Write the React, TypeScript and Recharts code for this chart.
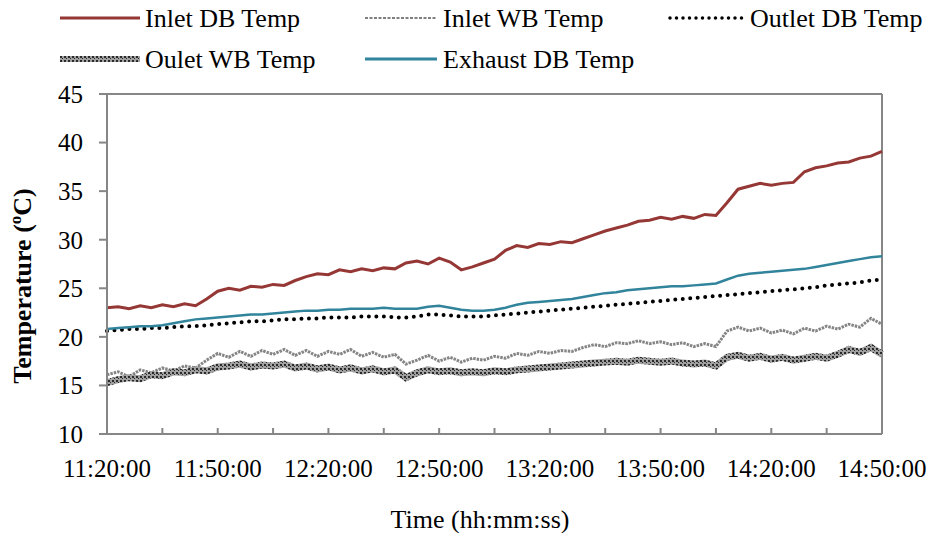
import React from "react";
import { LineChart, Line, XAxis, YAxis, ReferenceLine } from "recharts";

// minutes after 11:20:00
const minutes = [
  0, 3, 6, 9, 12, 15, 18, 21, 24, 27, 30, 33, 36, 39, 42, 45, 48, 51, 54, 57, 60, 63, 66, 69, 72, 75, 78, 81, 84, 87, 90,
  93, 96, 99, 102, 105, 108, 111, 114, 117, 120, 123, 126, 129, 132, 135, 138, 141, 144, 147, 150, 153, 156, 159, 162,
  165, 168, 171, 174, 177, 180, 183, 186, 189, 192, 195, 198, 201, 204, 207, 210,
];

const inletDB = [
  23.0, 23.1, 22.9, 23.2, 23.0, 23.3, 23.1, 23.4, 23.2, 23.9,
  24.7, 25.0, 24.8, 25.2, 25.1, 25.4, 25.3, 25.8, 26.2, 26.5,
  26.4, 26.9, 26.7, 27.0, 26.8, 27.1, 27.0, 27.6, 27.8, 27.5,
  28.1, 27.7, 26.9, 27.2, 27.6, 28.0, 28.9, 29.4, 29.2, 29.6,
  29.5, 29.8, 29.7, 30.1, 30.5, 30.9, 31.2, 31.5, 31.9, 32.0,
  32.3, 32.1, 32.4, 32.2, 32.6, 32.5, 33.8, 35.2, 35.5, 35.8,
  35.6, 35.8, 35.9, 37.0, 37.4, 37.6, 37.9, 38.0, 38.4, 38.6,
  39.1,
];

const inletWB = [
  16.1, 16.4, 15.9, 16.6, 16.3, 16.8, 16.5, 17.0, 16.8, 17.6,
  18.3, 17.9, 18.5, 18.0, 18.6, 18.2, 18.7, 18.1, 18.6, 18.0,
  18.5, 18.2, 18.7, 18.0, 18.4, 17.9, 18.2, 17.2, 17.6, 18.1,
  17.5, 17.9, 17.4, 17.8, 17.6, 18.0, 17.8, 18.3, 18.1, 18.5,
  18.3, 18.6, 18.5, 18.9, 19.2, 19.0, 19.4, 19.3, 19.6, 19.3,
  19.5, 19.2, 19.4, 19.0, 19.3, 19.0, 20.6, 21.0, 20.6, 20.9,
  20.4, 20.7, 20.3, 20.9, 20.6, 21.1, 20.8, 21.3, 21.0, 21.9,
  21.3,
];

const outletDB = [
  20.6, 20.7, 20.8, 20.8, 20.9, 20.9, 21.0, 21.1, 21.1, 21.2,
  21.3, 21.4, 21.5, 21.6, 21.6, 21.7, 21.8, 21.8, 21.9, 21.9,
  22.0, 22.0, 22.0, 22.1, 22.1, 22.1, 22.0, 22.0, 22.1, 22.3,
  22.3, 22.2, 22.1, 22.1, 22.1, 22.2, 22.3, 22.4, 22.5, 22.6,
  22.7, 22.8, 22.9, 23.0, 23.1, 23.2, 23.3, 23.4, 23.5, 23.6,
  23.7, 23.8, 23.9, 24.0, 24.1, 24.2, 24.3, 24.4, 24.5, 24.6,
  24.7, 24.8, 24.9, 25.0, 25.1, 25.3, 25.4, 25.5, 25.6, 25.8,
  25.9,
];

const outletWB = [
  15.3, 15.6, 15.8, 15.7, 16.1, 16.0, 16.4, 16.3, 16.6, 16.5,
  16.9, 17.0, 17.2, 16.9, 17.1, 17.0, 17.2, 16.8, 17.0, 16.7,
  16.9, 16.6, 16.8, 16.5, 16.7, 16.4, 16.6, 15.8, 16.3, 16.6,
  16.4, 16.5, 16.3, 16.4, 16.3, 16.5, 16.4, 16.6, 16.7, 16.8,
  16.9, 17.0, 17.1, 17.2, 17.3, 17.4, 17.5, 17.4, 17.6, 17.5,
  17.4, 17.5, 17.3, 17.2, 17.3, 17.0, 17.9, 18.1, 17.8, 18.0,
  17.7, 17.9, 17.6, 17.8, 18.0, 17.8, 18.2, 18.7, 18.4, 18.9,
  18.2,
];

const exhaustDB = [
  20.8, 20.9, 21.0, 21.1, 21.1, 21.2, 21.4, 21.6, 21.8, 21.9,
  22.0, 22.1, 22.2, 22.3, 22.3, 22.4, 22.5, 22.6, 22.7, 22.7,
  22.8, 22.8, 22.9, 22.9, 22.9, 23.0, 22.9, 22.9, 22.9, 23.1,
  23.2, 23.0, 22.8, 22.7, 22.7, 22.8, 23.0, 23.3, 23.5, 23.6,
  23.7, 23.8, 23.9, 24.1, 24.3, 24.5, 24.6, 24.8, 24.9, 25.0,
  25.1, 25.2, 25.2, 25.3, 25.4, 25.5, 25.9, 26.3, 26.5, 26.6,
  26.7, 26.8, 26.9, 27.0, 27.2, 27.4, 27.6, 27.8, 28.0, 28.2,
  28.3,
];

const xTicks = [0, 15, 30, 45, 60, 75, 90, 105, 120, 135, 150, 165, 180, 195, 210];
const labelMinutes = [0, 30, 60, 90, 120, 150, 180, 210];
const timeLabels = ["11:20:00", "11:50:00", "12:20:00", "12:50:00", "13:20:00", "13:50:00", "14:20:00", "14:50:00"];
const yTicks = [10, 15, 20, 25, 30, 35, 40, 45];

const data = minutes.map((m, i) => ({
  m,
  inletDB: inletDB[i],
  inletWB: inletWB[i],
  outletDB: outletDB[i],
  outletWB: outletWB[i],
  exhaustDB: exhaustDB[i],
}));

const FONT = "'Liberation Serif', 'Times New Roman', serif";
const AXIS = "#868686";
const RED = "#953735";
const TEAL = "#31849b";

function timeLabel(m: number) {
  const idx = labelMinutes.indexOf(m);
  return idx >= 0 ? timeLabels[idx] : "";
}

function Overlay() {
  return (
    <svg
      width={934}
      height={533}
      style={{ position: "absolute", left: 0, top: 0, pointerEvents: "none" }}
      fontFamily={FONT}
    >
      <defs>
        <pattern id="wbHatch" patternUnits="userSpaceOnUse" width={4} height={4}>
          <rect width={4} height={4} fill="#a0a0a0" />
          <rect width={2} height={2} fill="#2a2a2a" />
          <rect x={2} y={2} width={1} height={1} fill="#2a2a2a" />
        </pattern>
      </defs>

      {/* legend row 1 */}
      <line x1={60} y1={18} x2={140} y2={18} stroke={RED} strokeWidth={3} />
      <text x={145} y={27} fontSize={26}>Inlet DB Temp</text>
      <line x1={365} y1={18} x2={437} y2={18} stroke="#808080" strokeWidth={2} strokeDasharray="3 1.5" />
      <text x={443} y={27} fontSize={26}>Inlet WB Temp</text>
      <line x1={670} y1={18} x2={746} y2={18} stroke="#000" strokeWidth={3.5} strokeDasharray="0 6.5" strokeLinecap="round" />
      <text x={750} y={27} fontSize={26}>Outlet DB Temp</text>

      {/* legend row 2 */}
      <line x1={60} y1={59} x2={140} y2={59} stroke="url(#wbHatch)" strokeWidth={6} />
      <text x={145} y={68} fontSize={26}>Oulet WB Temp</text>
      <line x1={365} y1={59} x2={437} y2={59} stroke={TEAL} strokeWidth={3} />
      <text x={443} y={68} fontSize={26}>Exhaust DB Temp</text>

      {/* axis titles */}
      <text x={480} y={528} fontSize={26} textAnchor="middle">Time (hh:mm:ss)</text>
      <text transform="translate(31,286) rotate(-90)" fontSize={26} fontWeight="bold" textAnchor="middle">
        Temperature (<tspan fontSize={17} dy={-10}>o</tspan><tspan dy={10}>C)</tspan>
      </text>
    </svg>
  );
}

export default function App() {
  return (
    <div style={{ position: "absolute", left: 0, top: 0, width: 934, height: 533, background: "#fff" }}>
      <LineChart width={934} height={533} data={data} margin={{ top: 94, right: 52, bottom: 0, left: 0 }}>
        <XAxis
          dataKey="m"
          type="number"
          domain={[0, 210]}
          ticks={xTicks}
          interval={0}
          tickFormatter={timeLabel}
          height={99}
          tickSize={-6}
          tickMargin={31}
          stroke={AXIS}
          strokeWidth={2}
          tick={{ fill: "#000", fontSize: 25, fontFamily: FONT }}
        />
        <YAxis
          domain={[10, 45]}
          ticks={yTicks}
          interval={0}
          width={107}
          tickSize={8}
          tickMargin={16}
          stroke={AXIS}
          strokeWidth={2}
          tick={{ fill: "#000", fontSize: 25, fontFamily: FONT }}
        />
        <ReferenceLine y={45} stroke={AXIS} strokeWidth={2} />
        <ReferenceLine x={210} stroke={AXIS} strokeWidth={2} />
        <Line type="linear" dataKey="inletDB" stroke={RED} strokeWidth={3} dot={false} isAnimationActive={false} />
        <Line
          type="linear"
          dataKey="inletWB"
          stroke="#858585"
          strokeWidth={3}
          strokeDasharray="2.5 1"
          dot={false}
          isAnimationActive={false}
        />
        <Line
          type="linear"
          dataKey="outletDB"
          stroke="#000"
          strokeWidth={4}
          strokeDasharray="0 7.5"
          strokeLinecap="round"
          dot={false}
          isAnimationActive={false}
        />
        <Line
          type="linear"
          dataKey="outletWB"
          stroke="url(#wbHatch)"
          strokeWidth={7}
          dot={false}
          isAnimationActive={false}
        />
        <Line type="linear" dataKey="exhaustDB" stroke={TEAL} strokeWidth={2.5} dot={false} isAnimationActive={false} />
      </LineChart>
      <Overlay />
    </div>
  );
}
